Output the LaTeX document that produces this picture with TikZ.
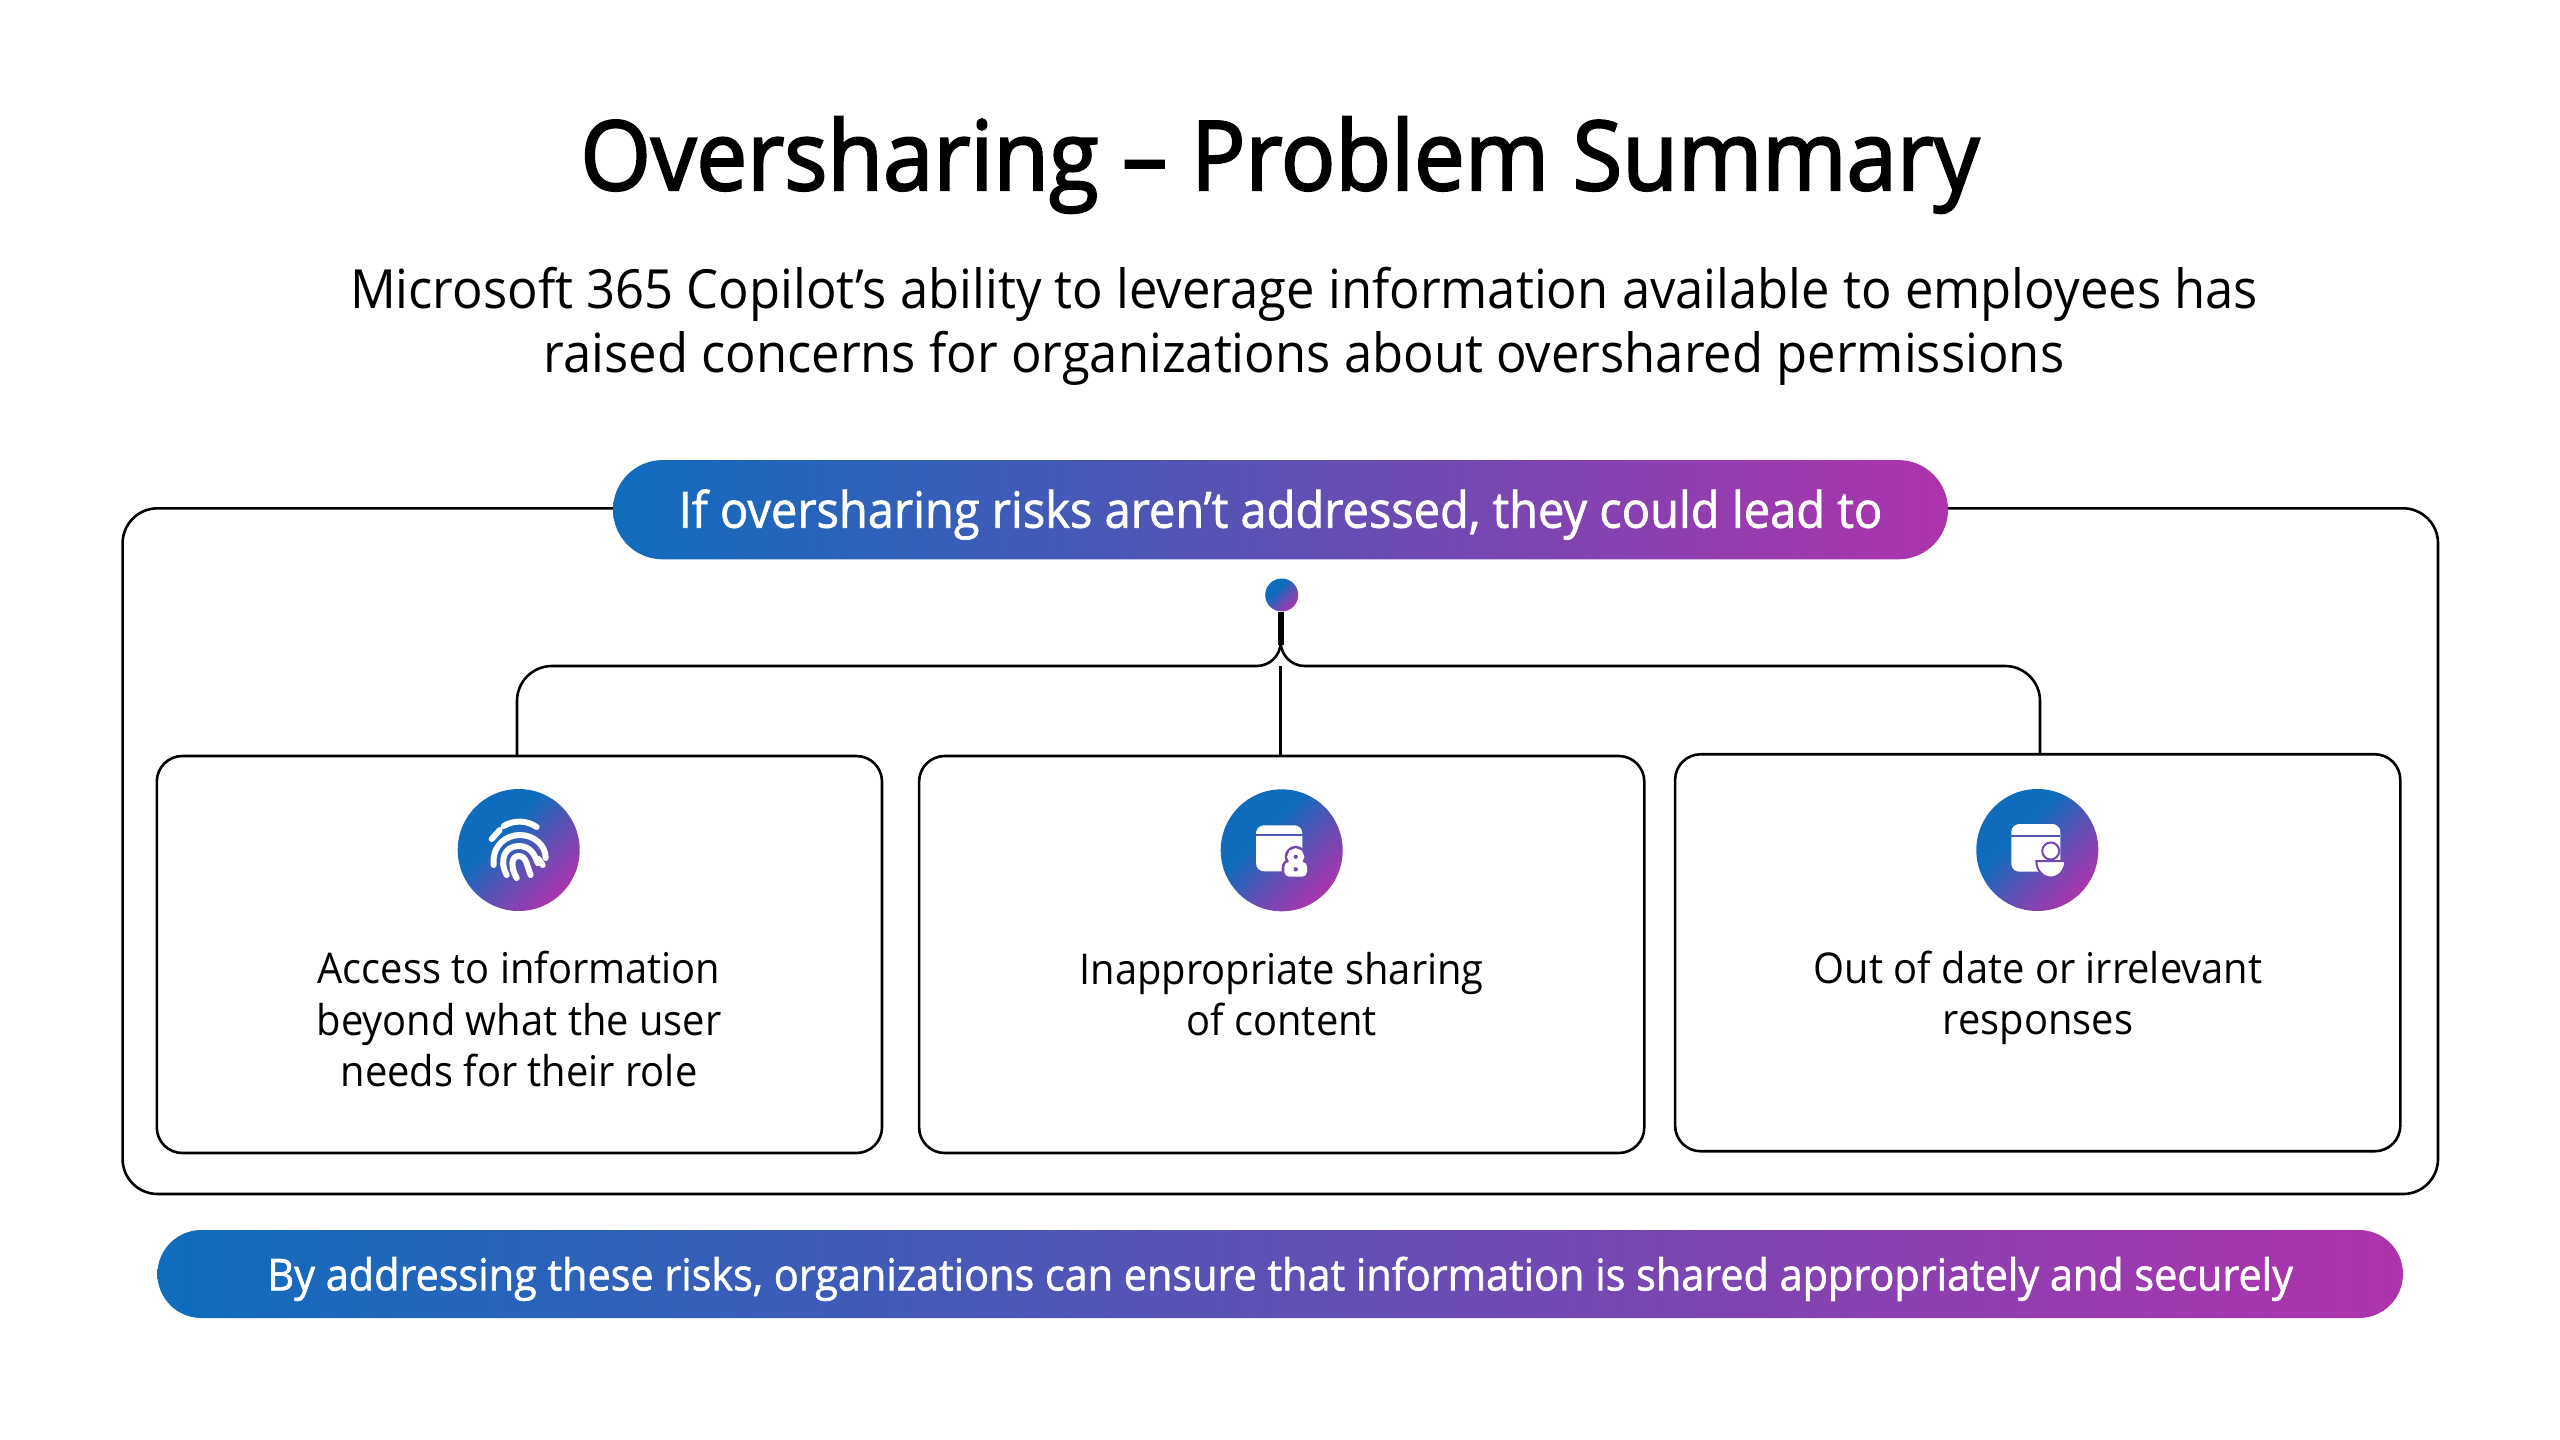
\documentclass[tikz,border=0pt]{standalone}
\usepackage{fontspec}
\setmainfont{Open Sans}[FakeStretch=0.94]
\usetikzlibrary{shapes.misc}
\definecolor{msblue}{HTML}{0F6CBD}
\definecolor{mspurple}{HTML}{AE33AC}
\definecolor{msmid}{HTML}{5E50B4}
\pgfdeclarehorizontalshading{iconshade}{100bp}{color(0bp)=(msblue); color(40bp)=(msblue); color(56bp)=(msmid); color(76bp)=(mspurple); color(100bp)=(mspurple)}
\newcommand{\heavy}[2]{\special{pdf:literal direct 2 Tr #1 w}#2\special{pdf:literal direct 0 Tr 0 w}}
\tikzset{
  framebox/.style={draw=black,line width=1.3pt,rounded corners=17.5pt,inner sep=0pt,outer sep=0pt},
  riskbox/.style={draw=black,line width=1.3pt,rounded corners=12.8pt,inner sep=0pt,outer sep=0pt,minimum width=362.6pt,minimum height=198.5pt},
  pillbar/.style={rounded rectangle,inner sep=0pt,outer sep=0pt,left color=msblue,right color=mspurple,middle color=msmid,text=white},
  iconball/.style={circle,inner sep=0pt,outer sep=0pt,minimum size=61pt,shading=iconshade,shading angle=-45},
  dotball/.style={circle,inner sep=0pt,outer sep=0pt,minimum size=16.5pt,shading=iconshade,shading angle=-45},
  bodytext/.style={align=center,inner sep=0pt,font=\fontsize{21.2}{25.6}\selectfont},
  link/.style={draw=black,line width=1.3pt},
  glyph/.style={fill=white,draw=none},
  ridge/.style={draw=white,line width=3pt,line cap=round},
}
\begin{document}
\begin{tikzpicture}[x=0.5pt,y=-0.5pt]
\useasboundingbox (0,0) rectangle (2560,1440);
\node (title) at (1280,165) {\fontsize{48.2}{56}\selectfont\heavy{1.1}{Oversharing – Problem Summary}};
\node (subtitle) [align=center,inner sep=0pt,font=\fontsize{27}{32}\selectfont] at (1304,326) {Microsoft 365 Copilot’s ability to leverage information available to employees has\\raised concerns for organizations about overshared permissions};
\node (frame) [framebox,minimum width=1157.7pt,minimum height=342.85pt] at (1280.3,851.15) {};
\node (leadpill) [pillbar,minimum width=667.5pt,minimum height=49.65pt,font=\fontsize{25}{28}\selectfont] at (1280.5,509.7) {\raisebox{-9pt}[0pt][0pt]{\heavy{0.35}{If oversharing risks aren’t addressed, they could lead to}}};
\node (dot) [dotball] at (1281.7,595) {};
\node (riskA) [riskbox] at (519.4,954.5) {};
\node (riskB) [riskbox] at (1281.7,954.5) {};
\node (riskC) [riskbox] at (2037.7,952.75) {};
\coordinate (stem) at (1280.7,645);
\coordinate (forkL) at (1280.7,666);
\coordinate (busL) at (517,666);
\coordinate (busR) at (2040,666);
\draw [link,line width=2.8pt] (stem |- dot.south) -- (stem);
\draw [link] (forkL) -- (forkL |- riskB.north);
\draw [link] (stem) [rounded corners=12pt] -- (forkL) [rounded corners=17.5pt] -- (busL) -- (busL |- riskA.north);
\draw [link] (stem) [rounded corners=12pt] -- (forkL) [rounded corners=17.5pt] -- (busR) -- (busR |- riskC.north);
\node (iconA) [iconball] at (518.7,850) {};
\node (iconB) [iconball] at (1281.7,850.3) {};
\node (iconC) [iconball] at (2037.3,850) {};
% fingerprint
\begin{scope}[shift={(iconA.center)}]
\draw [ridge] (-15,-24) .. controls (-5,-30) and (8,-30) .. (18,-23);
\draw [ridge] (-27,-11) -- (-19,-20);
\draw [ridge] (-25,15) .. controls (-27,-5) and (-12,-15) .. (1,-15) .. controls (15,-15) and (27,-5) .. (27,8);
\draw [ridge] (-12,25) .. controls (-20,10) and (-14,-4) .. (0,-4) .. controls (12,-4) and (16,5) .. (19,13);
\draw [ridge] (-2,28) .. controls (-8,18) and (-8,6) .. (0,6) .. controls (8,6) and (8,16) .. (12,25);
\draw [ridge] (20,9) -- (24,15);
\end{scope}
% calendar with lock
\begin{scope}[shift={(iconB.center)}]
\fill [glyph,rounded corners=4pt] (-25.7,-25) rectangle (20.6,21);
\draw [msmid!80!msblue,line width=1pt] (-26,-15) -- (21,-15);
\fill [msmid!70!mspurple,rounded corners=4pt] (0,9) rectangle (28,29);
\fill [msmid!70!mspurple] (14,6.5) circle [radius=11];
\draw [white,line width=3pt] (14,6.5) circle [radius=5.5];
\fill [glyph,rounded corners=2.5pt] (2.6,11.5) rectangle (25.4,26.4);
\fill [msmid!70!mspurple] (14,19) circle [radius=2.2];
\end{scope}
% calendar with person
\begin{scope}[shift={(iconC.center)}]
\fill [glyph,rounded corners=4pt] (-26,-26) rectangle (23,21.7);
\draw [msmid!80!msblue,line width=1pt] (-26,-14.3) -- (23,-14.3);
\fill [glyph,draw=msmid!70!mspurple,line width=1pt] (13.4,1) circle [radius=8.5];
\fill [glyph,draw=msmid!70!mspurple,line width=1pt] (-1,11) -- (28,11) arc [start angle=0,end angle=180,x radius=14.5,y radius=16.5] -- cycle;
\end{scope}
\node (riskAtext) [bodytext] at (519,1019) {Access to information\\beyond what the user\\needs for their role};
\node (riskBtext) [bodytext] at (1281.7,994) {Inappropriate sharing\\of content};
\node (riskCtext) [bodytext] at (2038,998) {Out of date or irrelevant\\responses};
\node (closepill) [pillbar,minimum width=1122.8pt,minimum height=44pt,font=\fontsize{22}{25}\selectfont] at (1280.2,1274) {\raisebox{-8.2pt}[0pt][0pt]{\heavy{0.3}{By addressing these risks, organizations can ensure that information is shared appropriately and securely}}};
\end{tikzpicture}
\end{document}
